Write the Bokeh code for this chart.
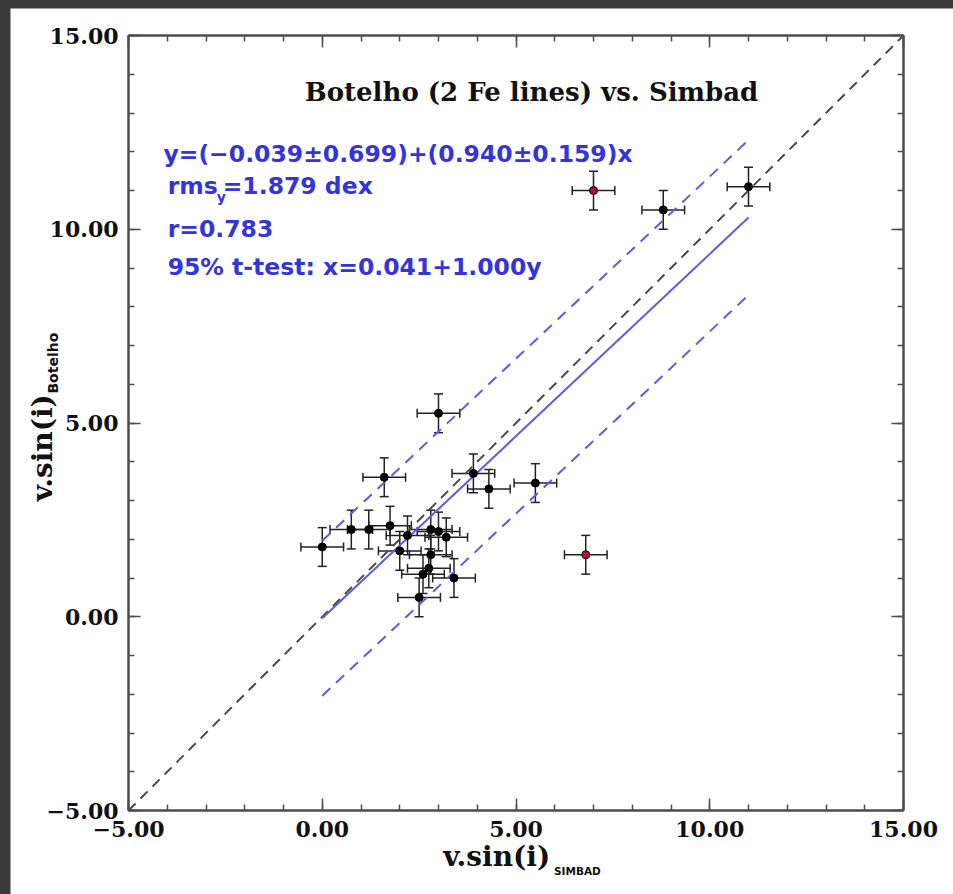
import math

from bokeh.embed import file_html
from bokeh.layouts import column
from bokeh.models import (ColumnDataSource, FixedTicker, Label, LinearAxis,
                          Range1d, TeeHead, Whisker)
from bokeh.plotting import figure
from bokeh.resources import INLINE

# v sin(i) in km/s: SIMBAD catalogue value vs. Botelho (2 Fe lines)
vsini_simbad = [11.0, 8.8, 7.0, 6.8, 3.0, 1.6, 3.9, 4.3, 5.5, 0.0, 0.75,
                1.2, 1.75, 2.2, 2.0, 2.8, 3.0, 3.2, 2.8, 2.75, 2.6, 3.4, 2.5]
vsini_botelho = [11.1, 10.5, 11.0, 1.6, 5.25, 3.6, 3.7, 3.3, 3.45, 1.8, 2.25,
                 2.25, 2.35, 2.1, 1.7, 2.25, 2.2, 2.05, 1.6, 1.25, 1.1, 1.0, 0.5]
err_simbad = [0.55] * len(vsini_simbad)
err_botelho = [0.5] * len(vsini_botelho)
# stars flagged as outliers are drawn in red
outlier = [False, False, True, True] + [False] * 19

# least-squares fit and its scatter band
fit_intercept = -0.039
fit_slope = 0.940
band_halfwidth = 2.0

axis_limits = (-5, 15)
major_ticks = [-5, 0, 5, 10, 15]
tick_labels = ["−5.00", "0.00", "5.00", "10.00", "15.00"]
minor_ticks = list(range(-5, 16))

title_text = "Botelho (2 Fe lines) vs. Simbad"
stats_lines = [
    "y=(−0.039±0.699)+(0.940±0.159)x",
    "r=0.783",
    "95% t-test: x=0.041+1.000y",
]

BLUE_TEXT = "#3434dc"
BLUE_LINE = "#5b5be8"
FRAME = "#4d4d4d"
INK = "#111111"

# The frame fills the whole canvas so the axis titles can sit beside the
# box; the boxed axes are pinned at the limits with fixed_location.
W, H = 943, 886
BOX_LEFT, BOX_RIGHT, BOX_TOP, BOX_BOTTOM = 118, 893, 27, 802
ppu = (BOX_RIGHT - BOX_LEFT) / (axis_limits[1] - axis_limits[0])
x_range = Range1d(axis_limits[0] - BOX_LEFT / ppu,
                  axis_limits[1] + (W - BOX_RIGHT) / ppu)
y_range = Range1d(axis_limits[0] - (H - BOX_BOTTOM) / ppu,
                  axis_limits[1] + BOX_TOP / ppu)

p = figure(width=W, height=H, output_backend="svg", toolbar_location=None,
           x_range=x_range, y_range=y_range,
           x_axis_location=None, y_axis_location=None,
           min_border=0)
p.margin = (8, 0, 0, 10)
p.background_fill_color = "white"
p.border_fill_color = "white"
p.outline_line_color = None
p.grid.visible = False
p.xgrid.grid_line_color = None
p.ygrid.grid_line_color = None

lo, hi = axis_limits
axes = {
    "below": LinearAxis(fixed_location=lo, bounds=axis_limits),
    "above": LinearAxis(fixed_location=hi, bounds=axis_limits),
    "left": LinearAxis(fixed_location=lo, bounds=axis_limits),
    "right": LinearAxis(fixed_location=hi, bounds=axis_limits),
}
for side, ax in axes.items():
    ax.ticker = FixedTicker(ticks=major_ticks, minor_ticks=minor_ticks)
    ax.axis_line_color = FRAME
    ax.axis_line_width = 2.5
    ax.major_tick_line_color = FRAME
    ax.minor_tick_line_color = FRAME
    ax.major_tick_line_width = 1.5
    ax.minor_tick_line_width = 1.5
    ax.major_tick_in = 12
    ax.major_tick_out = 0
    ax.minor_tick_in = 6
    ax.minor_tick_out = 0
    ax.major_label_overrides = dict(zip(major_ticks, tick_labels))
    ax.major_label_text_font = "DejaVu Serif"
    ax.major_label_text_font_style = "bold"
    ax.major_label_text_font_size = "22px"
    ax.major_label_text_color = INK if side in ("below", "left") else None
    ax.major_label_standoff = 10
    p.add_layout(ax, side)

# one-to-one relation
p.line(x=list(axis_limits), y=list(axis_limits), line_color="#4a4a4a",
       line_width=2, line_dash="10 7")

# fitted relation over the range of the data, with its band
fx = [min(vsini_simbad), max(vsini_simbad)]
fy = [fit_intercept + fit_slope * v for v in fx]
p.line(x=fx, y=fy, line_color=BLUE_LINE, line_width=2)
p.line(x=fx, y=[v + band_halfwidth for v in fy], line_color=BLUE_LINE,
       line_width=2, line_dash="11 8")
p.line(x=fx, y=[v - band_halfwidth for v in fy], line_color=BLUE_LINE,
       line_width=2, line_dash="11 8")

src = ColumnDataSource(dict(
    x=vsini_simbad, y=vsini_botelho,
    xl=[a - e for a, e in zip(vsini_simbad, err_simbad)],
    xu=[a + e for a, e in zip(vsini_simbad, err_simbad)],
    yl=[a - e for a, e in zip(vsini_botelho, err_botelho)],
    yu=[a + e for a, e in zip(vsini_botelho, err_botelho)],
    color=["#b3122e" if o else "black" for o in outlier],
))


def tee():
    return TeeHead(size=9, line_color="#222222", line_width=1.5)


p.add_layout(Whisker(source=src, base="y", lower="xl", upper="xu",
                     dimension="width", line_color="#222222", line_width=1.5,
                     lower_head=tee(), upper_head=tee()))
p.add_layout(Whisker(source=src, base="x", lower="yl", upper="yu",
                     dimension="height", line_color="#222222", line_width=1.5,
                     lower_head=tee(), upper_head=tee()))
p.scatter(x="x", y="y", source=src, size=8, fill_color="color",
          line_color="black", line_width=1)

# title inside the box
p.add_layout(Label(x=5.4, y=13.53, text=title_text, text_align="center",
                   text_baseline="alphabetic", text_font="DejaVu Serif",
                   text_font_style="bold", text_font_size="26px",
                   text_color=INK))

# fit statistics
stats_font = dict(text_font="DejaVu Sans", text_font_style="bold",
                  text_font_size="23.5px", text_color=BLUE_TEXT,
                  text_baseline="alphabetic")
p.add_layout(Label(x=-4.10, y=11.95, text=stats_lines[0], **stats_font))
p.add_layout(Label(x=-3.99, y=11.12, text="rms", **stats_font))
p.add_layout(Label(x=-2.72, y=10.84, text="y", text_font="DejaVu Sans",
                   text_font_style="bold", text_font_size="14px",
                   text_color=BLUE_TEXT, text_baseline="alphabetic"))
p.add_layout(Label(x=-2.57, y=11.12, text="=1.879 dex", **stats_font))
p.add_layout(Label(x=-3.99, y=10.0, text=stats_lines[1], **stats_font))
p.add_layout(Label(x=-3.99, y=9.03, text=stats_lines[2], **stats_font))

# axis titles with subscripts
axis_font = dict(text_font="DejaVu Serif", text_font_style="bold",
                 text_font_size="28px", text_color=INK,
                 text_baseline="alphabetic")
sub_font = dict(text_font="DejaVu Sans", text_font_style="bold",
                text_color=INK, text_baseline="alphabetic")
p.add_layout(Label(x=3.12, y=-6.19, text="v.sin(i)", **axis_font))
p.add_layout(Label(x=5.98, y=-6.55, text="SIMBAD", text_font_size="10.5px",
                   **sub_font))
p.add_layout(Label(x=-7.22, y=2.98, text="v.sin(i)", angle=math.pi / 2,
                   **axis_font))
p.add_layout(Label(x=-6.95, y=5.76, text="Botelho", angle=math.pi / 2,
                   text_font_size="14px", **sub_font))

page = column(p, width=953, height=894,
              styles={"background-color": "#3a3a3a"})

open("out.html", "w").write(file_html(page, INLINE))
